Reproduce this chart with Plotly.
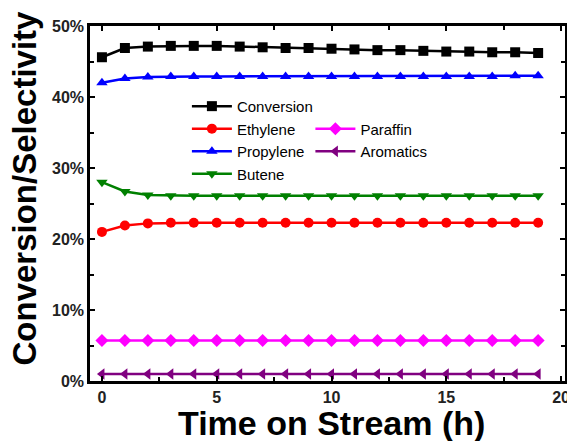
import plotly.graph_objects as go

time_h = list(range(20))
conversion = [45.6, 46.9, 47.1, 47.2, 47.2, 47.2, 47.1, 47.0, 46.9, 46.9, 46.8, 46.7, 46.6, 46.6, 46.5, 46.4, 46.4, 46.3, 46.3, 46.2]
ethylene = [21.0, 21.9, 22.2, 22.3, 22.3, 22.3, 22.3, 22.3, 22.3, 22.3, 22.3, 22.3, 22.3, 22.3, 22.3, 22.3, 22.3, 22.3, 22.3, 22.3]
propylene = [42.0, 42.6, 42.8, 42.9, 42.9, 42.9, 42.9, 42.9, 42.9, 42.9, 42.9, 42.9, 42.9, 42.9, 42.9, 42.9, 42.9, 42.9, 43.0, 43.0]
butene = [28.0, 26.7, 26.2, 26.1, 26.1, 26.1, 26.1, 26.1, 26.1, 26.1, 26.1, 26.1, 26.1, 26.1, 26.1, 26.1, 26.1, 26.1, 26.1, 26.1]
paraffin = [5.7] * 20
aromatics = [1.0] * 20

x_ticks = [0, 5, 10, 15, 20]
y_ticks = [0, 10, 20, 30, 40, 50]

series = [
    ("Conversion", conversion, "black", "square", "legend"),
    ("Ethylene", ethylene, "red", "circle", "legend"),
    ("Propylene", propylene, "blue", "triangle-up", "legend"),
    ("Butene", butene, "green", "triangle-down", "legend"),
    ("Paraffin", paraffin, "magenta", "diamond", "legend2"),
    ("Aromatics", aromatics, "purple", "triangle-left", "legend2"),
]

FONT = "Arial, Liberation Sans, sans-serif"
fig = go.Figure()
for name, vals, color, sym, lg in series:
    fig.add_trace(go.Scatter(
        x=time_h, y=vals, name=name, mode="lines+markers",
        line=dict(color=color, width=2.5),
        marker=dict(symbol=sym, size=10, color=color),
        legend=lg,
    ))

axis_common = dict(
    showline=True, linecolor="black", linewidth=2.5, mirror="ticks",
    ticks="inside", ticklen=5, tickwidth=2, tickcolor="black",
    showgrid=False, zeroline=False, automargin=False,
    tickfont=dict(family=FONT, size=16, color="#222"),
)
fig.update_xaxes(
    range=[-0.52, 20.17], tickvals=x_ticks, ticktext=[f"<b>{t}</b>" for t in x_ticks],
    minor=dict(tickvals=[2.5, 7.5, 12.5, 17.5], ticks="inside", ticklen=4, tickwidth=2, tickcolor="black"),
    **axis_common,
)
fig.update_yaxes(
    range=[0, 50], tickvals=y_ticks, ticktext=[f"<b>{t}%</b>" for t in y_ticks],
    minor=dict(tickvals=[5, 15, 25, 35, 45], ticks="inside", ticklen=4, tickwidth=2, tickcolor="black"),
    **axis_common,
)

leg_common = dict(
    font=dict(family=FONT, size=15, color="black"),
    bgcolor="rgba(0,0,0,0)", tracegroupgap=0, itemwidth=40,
    xanchor="left", yanchor="top", orientation="v",
)
fig.update_layout(
    width=567, height=433,
    margin=dict(l=82, r=10, t=18, b=60),
    plot_bgcolor="white", paper_bgcolor="white",
    showlegend=True,
    legend=dict(x=0.204, y=0.82, **leg_common),
    legend2=dict(x=0.464, y=0.756, **leg_common),
    annotations=[
        dict(text="<b>Time on Stream (h)</b>", xref="paper", yref="paper", x=0.5, y=0,
             xanchor="center", yanchor="middle", xshift=4, yshift=-42, showarrow=False,
             font=dict(family=FONT, size=34, color="black")),
        dict(text="<b>Conversion/Selectivity</b>", xref="paper", yref="paper", x=0, y=0.5,
             xanchor="center", yanchor="middle", xshift=-66, yshift=15, textangle=-90, showarrow=False,
             font=dict(family=FONT, size=33, color="black")),
    ],
)
fig.write_html("out.html")
